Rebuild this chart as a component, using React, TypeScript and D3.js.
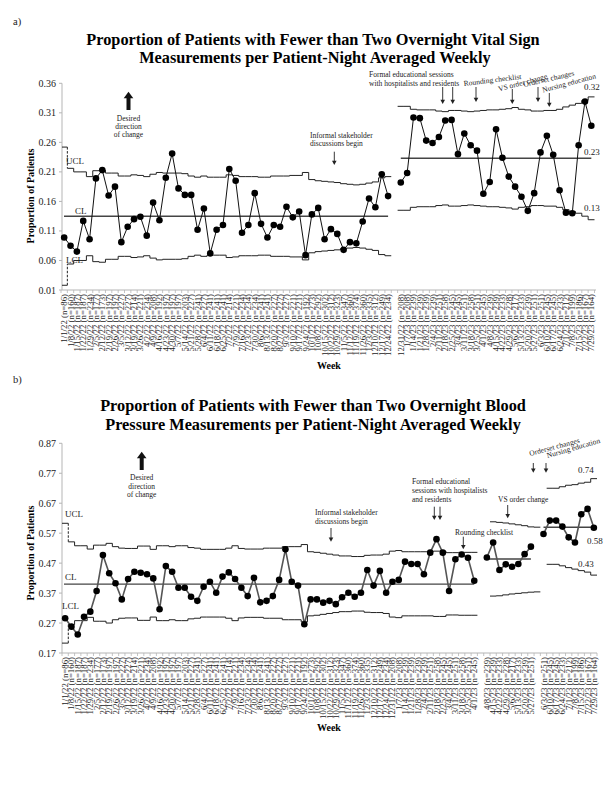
import React from "react";
import * as d3 from "d3";

// ---------- shared week categories ----------
const WEEKS = ["1/1/22","1/8/22","1/15/22","1/22/22","1/29/22","2/5/22","2/12/22","2/19/22","2/26/22","3/5/22","3/12/22","3/19/22","3/26/22","4/2/22","4/9/22","4/16/22","4/23/22","4/30/22","5/7/22","5/14/22","5/21/22","5/28/22","6/4/22","6/11/22","6/18/22","6/25/22","7/2/22","7/9/22","7/16/22","7/23/22","7/30/22","8/6/22","8/13/22","8/20/22","8/27/22","9/3/22","9/10/22","9/17/22","9/24/22","10/1/22","10/8/22","10/15/22","10/22/22","10/29/22","11/5/22","11/12/22","11/19/22","11/26/22","12/3/22","12/10/22","12/17/22","12/24/22","12/31/22","1/7/23","1/14/23","1/21/23","1/28/23","2/4/23","2/11/23","2/18/23","2/25/23","3/4/23","3/11/23","3/18/23","3/25/23","4/1/23","4/8/23","4/15/23","4/22/23","4/29/23","5/6/23","5/13/23","5/20/23","5/27/23","6/3/23","6/10/23","6/17/23","6/24/23","7/1/23","7/8/23","7/15/23","7/22/23","7/29/23"];

const PATIENTS = [86,160,187,187,234,177,173,197,197,227,227,214,221,234,208,192,197,197,197,203,227,241,227,241,241,241,214,221,234,234,234,241,241,227,227,227,221,221,192,273,292,302,312,323,347,360,374,360,335,312,249,234,
208,208,239,239,239,239,251,258,245,245,251,258,251,245,239,239,233,228,217,233,239,251,251,245,245,233,212,199,186,167,164];

const Y_TICKS_A = [0.01,0.06,0.11,0.16,0.21,0.26,0.31,0.36];
const Y_TICKS_B = [0.17,0.27,0.37,0.47,0.57,0.67,0.77,0.87];

// ---------- chart a: vital signs ----------
const VS_VALUES = [0.099,0.085,0.075,0.127,0.096,0.199,0.213,0.170,0.185,0.091,0.117,0.130,0.134,0.102,0.158,0.128,0.200,0.241,0.182,0.171,0.171,0.112,0.148,0.072,0.112,0.120,0.215,0.195,0.107,0.120,0.174,0.122,0.099,0.120,0.117,0.151,0.133,0.143,0.069,0.138,0.149,0.096,0.113,0.105,0.078,0.091,0.089,0.126,0.165,0.150,0.206,0.169,
0.192,0.208,0.302,0.301,0.263,0.259,0.269,0.297,0.298,0.240,0.275,0.255,0.246,0.173,0.193,0.282,0.234,0.202,0.185,0.168,0.144,0.174,0.243,0.271,0.239,0.179,0.141,0.140,0.255,0.329,0.288];
const VS_SEG_STARTS = [0, 52];
const VS_CENTER = [0.135, 0.233];
const VS_UCL = [0.252,0.216,0.210,0.210,0.202,0.212,0.213,0.208,0.208,0.203,0.203,0.205,0.204,0.202,0.206,0.209,0.208,0.208,0.208,0.207,0.203,0.201,0.203,0.201,0.201,0.201,0.205,0.204,0.202,0.202,0.202,0.201,0.201,0.203,0.203,0.203,0.204,0.204,0.209,0.197,0.195,0.194,0.193,0.192,0.190,0.189,0.188,0.189,0.191,0.193,0.200,0.202,
null,
0.321,0.321,0.316,0.315,0.315,0.315,0.313,0.312,0.314,0.314,0.313,0.312,0.313,0.314,0.315,0.315,0.316,0.317,0.319,0.316,0.315,0.313,0.313,0.314,0.314,0.316,0.320,0.323,0.326,0.331,0.337];
const VS_LCL = [0.018,0.054,0.060,0.060,0.068,0.058,0.057,0.062,0.062,0.067,0.067,0.065,0.066,0.068,0.064,0.061,0.062,0.062,0.062,0.063,0.067,0.069,0.067,0.069,0.069,0.069,0.065,0.066,0.068,0.068,0.068,0.069,0.069,0.067,0.067,0.067,0.066,0.066,0.061,0.073,0.075,0.076,0.077,0.078,0.080,0.081,0.082,0.081,0.079,0.077,0.070,0.068,
null,
0.145,0.145,0.150,0.151,0.151,0.151,0.153,0.154,0.152,0.152,0.153,0.154,0.153,0.152,0.151,0.151,0.150,0.149,0.147,0.150,0.151,0.153,0.153,0.152,0.152,0.150,0.146,0.143,0.140,0.135,0.129];

// ---------- chart b: blood pressure ----------
const BP_VALUES = [0.286,0.258,0.232,0.291,0.308,0.377,0.497,0.436,0.403,0.349,
0.417,0.441,0.438,0.433,0.419,0.316,0.460,0.441,0.388,0.388,
0.358,0.344,0.391,0.408,0.371,0.425,0.439,0.417,0.388,0.360,
0.421,0.339,0.344,0.360,0.414,0.516,0.408,0.395,0.266,0.349,
0.349,0.338,0.344,0.333,0.356,0.371,0.358,0.371,0.447,0.395,
0.444,0.371,0.408,0.414,0.475,0.467,0.467,0.433,0.505,0.550,
0.505,0.377,0.483,0.499,0.488,0.411,
0.489,0.539,0.447,0.466,0.458,0.467,0.500,0.525,
0.567,0.612,0.612,0.592,0.556,0.539,0.633,0.651,0.588];
const BP_SEG_STARTS = [0, 66, 74];
const BP_CENTER = [0.400, 0.484, 0.590];
const BP_UCL = [0.603,0.541,0.528,0.528,0.517,0.530,0.530,0.536,0.525,0.520,
0.519,0.519,0.527,0.527,0.516,0.528,0.528,0.525,0.528,0.528,
0.522,0.520,0.516,0.516,0.516,0.516,0.520,0.528,0.519,0.517,
0.517,0.517,0.520,0.520,0.520,0.525,0.525,0.525,0.532,0.508,
0.506,0.503,0.500,0.497,0.494,0.494,0.492,0.492,0.496,0.497,
0.497,0.500,0.510,0.512,0.508,0.508,0.508,0.508,0.508,0.510,
0.510,0.505,0.505,0.506,0.506,0.506,
null,null,
0.608,0.606,0.604,0.601,0.598,0.595,0.591,0.590,
null,
0.720,0.720,0.725,0.730,0.732,0.737,0.740,0.752];
const BP_LCL = [0.203,0.265,0.278,0.278,0.289,0.276,0.276,0.270,0.281,0.286,
0.287,0.287,0.279,0.279,0.290,0.278,0.278,0.281,0.278,0.278,
0.284,0.286,0.290,0.290,0.290,0.290,0.286,0.278,0.287,0.289,
0.289,0.289,0.286,0.286,0.286,0.281,0.281,0.281,0.274,0.294,
0.296,0.299,0.302,0.305,0.308,0.308,0.310,0.310,0.306,0.305,
0.305,0.302,0.290,0.288,0.294,0.294,0.294,0.294,0.294,0.292,
0.292,0.297,0.297,0.296,0.296,0.296,
null,null,
0.360,0.361,0.364,0.367,0.369,0.371,0.373,0.374,
null,
0.466,0.466,0.461,0.455,0.450,0.445,0.440,0.430];

const FONT = "'Liberation Serif', 'Times New Roman', serif";

function Arrow({ x, y1, y2 }: { x: number; y1: number; y2: number }) {
  return (
    <g>
      <line x1={x} x2={x} y1={y1} y2={y2 - 3} stroke="#222" strokeWidth={0.9} />
      <path d={`M${x - 2.3},${y2 - 4.2}L${x + 2.3},${y2 - 4.2}L${x},${y2}Z`} fill="#222" />
    </g>
  );
}

function BigArrow({ x, y1, y2 }: { x: number; y1: number; y2: number }) {
  return (
    <g>
      <rect x={x - 2} y={y1 + 6} width={4} height={y2 - y1 - 6} fill="#111" />
      <path d={`M${x - 4.8},${y1 + 6.5}L${x + 4.8},${y1 + 6.5}L${x},${y1}Z`} fill="#111" />
    </g>
  );
}

type ChartProps = {
  values: number[];
  segStarts: number[];
  centers: number[];
  ucl: (number | null)[];
  lcl: (number | null)[];
  yDomain: [number, number];
  yTicks: number[];
  xRange: [number, number];
  yRange: [number, number];
  axisEnd: number;
  lineColor: string;
  lineWidth: number;
};

function ControlChart(p: ChartProps) {
  const breaks = p.segStarts.slice(1);
  const nSlots = p.values.length + breaks.length;
  const slotOf = (w: number) => w + breaks.filter((b) => b <= w).length;
  const x = d3.scaleBand<number>().domain(d3.range(nSlots)).range(p.xRange).padding(0);
  const bw = x.bandwidth();
  const cx = (s: number) => (x(s) as number) + bw / 2;
  const y = d3.scaleLinear().domain(p.yDomain).range(p.yRange);
  const y0 = p.yRange[0];
  const axisX = 62;

  const segEnds = p.segStarts.slice(1).map((s) => s - 1).concat(p.values.length - 1);
  const line = d3
    .line<number>()
    .x((w) => cx(slotOf(w)))
    .y((w) => y(p.values[w]));

  const limitPaths = (arr: (number | null)[]) => {
    const out: JSX.Element[] = [];
    let run: number[] = [];
    const runs: number[][] = [];
    arr.forEach((v, s) => {
      if (v == null) {
        if (run.length) runs.push(run);
        run = [];
      } else run.push(s);
    });
    if (run.length) runs.push(run);
    runs.forEach((r, ri) => {
      let startIdx = 0;
      if (r[0] === 0 && r.length > 1) {
        const s0 = r[0];
        const v0 = arr[s0] as number;
        const v1 = arr[r[1]] as number;
        const xa = Math.max(x(s0) as number, axisX);
        out.push(
          <path key={`f${ri}`} d={`M${xa},${y(v0)}H${(x(s0) as number) + bw}`} fill="none" stroke="#222" strokeWidth={1} />
        );
        out.push(
          <line key={`d${ri}`} x1={(x(s0) as number) + bw} x2={(x(s0) as number) + bw} y1={y(v0)} y2={y(v1)} stroke="#222" strokeWidth={1} strokeDasharray="2.5,1.5" />
        );
        startIdx = 1;
      }
      let d = "";
      r.slice(startIdx).forEach((s, k) => {
        const v = arr[s] as number;
        if (k === 0) d += `M${x(s)},${y(v)}`;
        else d += `V${y(v)}`;
        d += `H${(x(s) as number) + bw}`;
      });
      out.push(<path key={`p${ri}`} d={d} fill="none" stroke="#222" strokeWidth={1} />);
    });
    return out;
  };

  return (
    <g>
      {/* axes */}
      <line x1={axisX} x2={axisX} y1={y(p.yDomain[1])} y2={y0} stroke="#b5b5b5" strokeWidth={1} />
      <line x1={axisX} x2={p.axisEnd} y1={y0} y2={y0} stroke="#b5b5b5" strokeWidth={1} />
      {p.yTicks.map((t) => (
        <g key={t}>
          <line x1={axisX - 3} x2={axisX} y1={y(t)} y2={y(t)} stroke="#b5b5b5" />
          <text x={axisX - 6} y={y(t) + 3.5} textAnchor="end" fontSize={10} fontFamily={FONT} fill="#222">
            {t.toFixed(2)}
          </text>
        </g>
      ))}
      {d3.range(nSlots + 1).map((s) => {
        const xx = s < nSlots ? (x(s) as number) : p.xRange[1];
        return <line key={s} x1={xx} x2={xx} y1={y0} y2={y0 + 3} stroke="#b5b5b5" strokeWidth={0.8} />;
      })}
      {p.values.map((_, w) => {
        const s = slotOf(w);
        return (
          <text
            key={w}
            transform={`translate(${cx(s) + 3},${y0 + 4}) rotate(-90)`}
            textAnchor="end"
            fontSize={8.8}
            fontFamily={FONT}
            fill="#222"
          >
            {`${WEEKS[w]} (n=${PATIENTS[w]})`}
          </text>
        );
      })}
      {/* limits */}
      {limitPaths(p.ucl)}
      {limitPaths(p.lcl)}
      {/* center lines */}
      {p.segStarts.map((st, k) => (
        <line
          key={k}
          x1={k === 0 ? axisX + 2 : cx(slotOf(st))}
          x2={cx(slotOf(segEnds[k]))}
          y1={y(p.centers[k])}
          y2={y(p.centers[k])}
          stroke="#444"
          strokeWidth={1.4}
        />
      ))}
      {/* data */}
      {p.segStarts.map((st, k) => (
        <path key={k} d={line(d3.range(st, segEnds[k] + 1)) || ""} fill="none" stroke={p.lineColor} strokeWidth={p.lineWidth} />
      ))}
      {p.values.map((v, w) => (
        <circle key={w} cx={cx(slotOf(w))} cy={y(v)} r={3.3} fill="#000" />
      ))}
    </g>
  );
}

const T = (props: any) => <text fontFamily={FONT} fill="#222" {...props} />;

export default function App() {
  return (
    <svg width={612} height={792} style={{ position: "absolute", left: 0, top: 0, background: "#fff" }}>
      <rect width={612} height={792} fill="#fff" />

      {/* ===== chart a ===== */}
      <T x={13} y={25} fontSize={10.5}>a)</T>
      <T x={313} y={44.5} fontSize={16.3} fontWeight="bold" textAnchor="middle" fill="#000">
        Proportion of Patients with Fewer than Two Overnight Vital Sign
      </T>
      <T x={315} y={62.5} fontSize={16.3} fontWeight="bold" textAnchor="middle" fill="#000">
        Measurements per Patient-Night Averaged Weekly
      </T>
      <ControlChart
        values={VS_VALUES}
        segStarts={VS_SEG_STARTS}
        centers={VS_CENTER}
        ucl={VS_UCL}
        lcl={VS_LCL}
        yDomain={[0.01, 0.36]}
        yTicks={Y_TICKS_A}
        xRange={[61, 594.5]}
        yRange={[290, 83.3]}
        axisEnd={596}
        lineColor="#111"
        lineWidth={1}
      />
      <T transform="translate(34,196) rotate(-90)" fontSize={10} fontWeight="bold" textAnchor="middle" fill="#000">
        Proportion of Patients
      </T>
      <T x={329} y={369} fontSize={10} fontWeight="bold" textAnchor="middle" fill="#000">Week</T>
      <BigArrow x={128.5} y1={91.7} y2={110} />
      <T x={128.5} y={120.8} fontSize={7.5} textAnchor="middle">Desired</T>
      <T x={128.5} y={128.8} fontSize={7.5} textAnchor="middle">direction</T>
      <T x={128.5} y={136.8} fontSize={7.5} textAnchor="middle">of change</T>
      <T x={66} y={164} fontSize={9}>UCL</T>
      <T x={75} y={213.5} fontSize={9}>CL</T>
      <T x={66} y={262.5} fontSize={9}>LCL</T>
      <T x={310} y={138} fontSize={7.5}>Informal stakeholder</T>
      <T x={310} y={146} fontSize={7.5}>discussions begin</T>
      <Arrow x={334.3} y1={151.7} y2={165} />
      <T x={369} y={77} fontSize={7.5}>Formal educational sessions</T>
      <T x={369} y={85.5} fontSize={7.5}>with hospitalists and residents</T>
      <Arrow x={442.7} y1={87} y2={104} />
      <Arrow x={452.7} y1={87} y2={104} />
      <T transform="translate(464,86) rotate(-7)" fontSize={7.5}>Rounding checklist</T>
      <Arrow x={476} y1={87} y2={102} />
      <T transform="translate(499,91.5) rotate(-15)" fontSize={7.5}>VS order change</T>
      <Arrow x={512.3} y1={89} y2={104} />
      <T transform="translate(524,87) rotate(-13)" fontSize={7.5}>Orderset changes</T>
      <Arrow x={538} y1={87} y2={102} />
      <T transform="translate(543,92.5) rotate(-15)" fontSize={7.5}>Nursing education</T>
      <Arrow x={549.3} y1={93} y2={107} />
      <T x={584} y={90} fontSize={9}>0.32</T>
      <T x={584} y={155} fontSize={9}>0.23</T>
      <T x={584} y={210.5} fontSize={9}>0.13</T>

      {/* ===== chart b ===== */}
      <T x={13} y={383} fontSize={10.5}>b)</T>
      <T x={313} y={411} fontSize={16.3} fontWeight="bold" textAnchor="middle" fill="#000">
        Proportion of Patients with Fewer than Two Overnight Blood
      </T>
      <T x={313} y={430} fontSize={16.3} fontWeight="bold" textAnchor="middle" fill="#000">
        Pressure Measurements per Patient-Night Averaged Weekly
      </T>
      <ControlChart
        values={BP_VALUES}
        segStarts={BP_SEG_STARTS}
        centers={BP_CENTER}
        ucl={BP_UCL}
        lcl={BP_LCL}
        yDomain={[0.17, 0.87]}
        yTicks={Y_TICKS_B}
        xRange={[62, 597]}
        yRange={[653, 443.3]}
        axisEnd={597}
        lineColor="#555"
        lineWidth={1.6}
      />
      <T transform="translate(34,553) rotate(-90)" fontSize={10} fontWeight="bold" textAnchor="middle" fill="#000">
        Proportion of Patients
      </T>
      <T x={329} y={731} fontSize={10} fontWeight="bold" textAnchor="middle" fill="#000">Week</T>
      <BigArrow x={141.7} y1={451.7} y2={470} />
      <T x={141.7} y={480.3} fontSize={7.5} textAnchor="middle">Desired</T>
      <T x={141.7} y={488.6} fontSize={7.5} textAnchor="middle">direction</T>
      <T x={141.7} y={497} fontSize={7.5} textAnchor="middle">of change</T>
      <T x={65} y={517} fontSize={9}>UCL</T>
      <T x={65} y={580} fontSize={9}>CL</T>
      <T x={62} y={609} fontSize={9}>LCL</T>
      <T x={315} y={515} fontSize={7.5}>Informal stakeholder</T>
      <T x={315} y={523.5} fontSize={7.5}>discussions begin</T>
      <Arrow x={331} y1={528} y2={541.7} />
      <T x={412} y={483.5} fontSize={7.5}>Formal educational</T>
      <T x={412} y={493.3} fontSize={7.5}>sessions with hospitalists</T>
      <T x={412} y={502} fontSize={7.5}>and residents</T>
      <Arrow x={434.3} y1={506.7} y2={520} />
      <Arrow x={440} y1={506.7} y2={520} />
      <T x={455} y={534.5} fontSize={7.5}>Rounding checklist</T>
      <Arrow x={463.3} y1={536.7} y2={549.3} />
      <T x={498} y={502} fontSize={7.5}>VS order change</T>
      <Arrow x={507.7} y1={505} y2={518.3} />
      <T transform="translate(530,456) rotate(-15)" fontSize={7.5}>Orderset changes</T>
      <Arrow x={533.3} y1={463} y2={472.7} />
      <T transform="translate(547.5,458) rotate(-16)" fontSize={7.5}>Nursing education</T>
      <Arrow x={546} y1={463} y2={472.7} />
      <T x={578} y={473} fontSize={9}>0.74</T>
      <T x={587} y={544} fontSize={9}>0.58</T>
      <T x={578} y={567} fontSize={9}>0.43</T>
    </svg>
  );
}
